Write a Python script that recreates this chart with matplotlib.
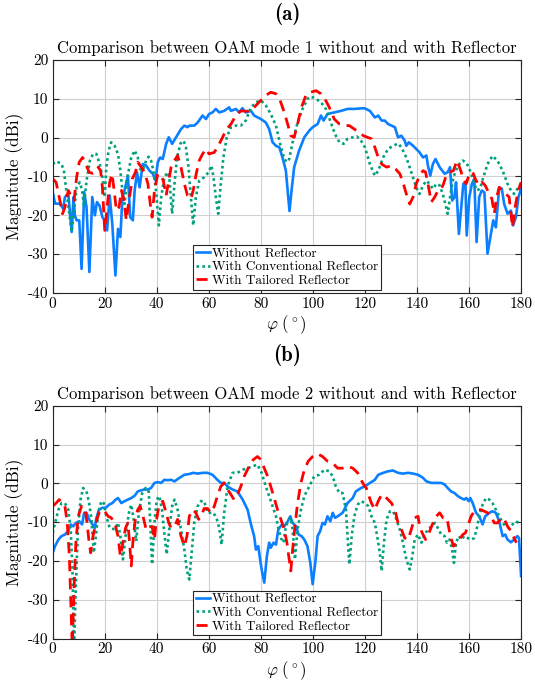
import numpy as np
import matplotlib
matplotlib.use("Agg")
from matplotlib import pyplot as plt

plt.rcParams['font.family'] = ['cmr10', 'DejaVu Serif']
plt.rcParams['mathtext.fontset'] = 'cm'

#  (a) OAM mode 1
a_blue_x = [0, 0.9, 2.8, 4, 4.7, 6, 7.3, 8, 8.5, 9.2, 10.2, 11.1, 12.1, 13, 14.1, 15.2, 16.2, 17, 18, 19.1,
            20, 20.9, 21.9, 22.9, 24.1, 25.1, 26, 26.8, 27.6, 28.9, 29.8, 30.8, 31.5, 32.4, 33.4, 34.6, 35.9, 37.2, 38.5, 39.5,
            40.4, 41.3, 42.3, 43.6, 44.6, 45.9, 47.4, 49.3, 50.6, 51.8, 52.5, 54.4, 55.7, 57.6, 58.9, 60.1,
            61.4, 62.7, 64, 65.9, 67.8, 68.5, 70.4, 71.7, 72.9, 74.2, 76.2, 77.4, 80, 81.9, 83.2, 84.5, 85.8, 87.1, 88.3, 89.6,
            90.3, 91, 91.8, 92.8, 94.7, 96.7, 98.6, 99.9, 101.8, 103.1, 104.1, 105.6, 108.2, 110.8, 113.3, 115.9, 119.7,
            121.9, 123.8, 125.1, 126.4, 127.6, 128.9, 130.2, 131.5, 132.7, 134, 135.3, 135.9, 136.9, 138.5, 139.7,
            141, 142.3, 143.6, 144.2, 145.1, 146.1, 147.1, 148.7, 150.6, 151.8, 152.7, 153.5, 154.4, 155, 156.1, 157, 157.8, 158.6, 159.1,
            160.1, 161.1, 162, 162.9, 163.9, 164.9, 165.9, 167.1, 168.4, 169.3, 170.3, 171.6, 172.6, 173.5, 174.8, 176.1, 176.9, 178, 179, 180]
a_blue_y = [-14, -17, -17, -18.3, -15.3, -14.5, -24.3, -15.3, -20, -21.3, -21.3, -33.8, -14, -17.9, -34.6, -15.3, -20, -16.6, -17.5, -20.5,
            -21.3, -23.9, -14.9, -22.2, -35.5, -23.5, -25.6, -15.3, -13.6, -9.8, -20.5, -21.3, -13.6, -8.9, -12.8, -6.8, -7.2, -8.5, -9.3, -11,
            -6.3, -5.1, -5.5, -1.6, 0.1, -1.6, 0.1, 2.2, 3.1, 2.7, 3.1, 3.1, 3.9, 5.7, 4.8, 6.1,
            6.5, 7.4, 6.5, 6.9, 7.8, 6.9, 7.4, 6.5, 7.6, 6.5, 6.9, 5.7, 4.8, 3.9, 2.2, -1.2, -2.1, -2.5, -5.1, -8.5,
            -13.6, -18.9, -13.6, -7.6, -3.3, 0.1, 1.8, 2.7, 3.5, 5.7, 4.4, 6.1, 6.5, 6.9, 7.4, 7.4, 7.6,
            6.9, 5.2, 5.7, 4.4, 4.4, 3.5, 3.1, 2.7, 0.1, 0.5, -0.8, -2.1, -1.2, -2.1, -2.9,
            -3.8, -5.1, -4.6, -7.2, -9.8, -6.8, -5.5, -7.6, -9.3, -8.9, -7.6, -16.2, -15.3, -11.5, -24.8, -17.9, -11.9, -11.5, -25.2,
            -15.3, -11.9, -10.6, -26.9, -15.3, -13.6, -14.1, -29.9, -24.8, -21.3, -23.1, -12.8, -13.2, -17.1, -19.6, -18.8, -22.6, -20.5, -15.3, -13.2]

a_green_x = [0, 1.5, 3.4, 4.3, 5.4, 6.4, 7.3, 8.2, 9.2, 10.4, 11.3, 12, 13, 14.3, 15.5, 16.8, 18.1, 19.1,
             20, 20.6, 21.5, 22.5, 23.8, 25.1, 26, 26.8, 27.6, 28.7, 30.2, 31.5, 32.7, 33.6, 34.6, 35.9, 36.9, 37.8, 38.7, 39.7,
             40.8, 41.7, 42.9, 44.2, 44.8, 45.9, 46.8, 47.8, 49.1, 50.3, 51.2, 52.2, 53.1, 54, 55, 56.3, 58.2, 59.9,
             61, 61.8, 62.7, 63.6, 64.6, 65.6, 66.9, 68.5, 70.4, 72.3, 74.2, 76.2, 78.1, 80, 81.9, 83.8, 85.8, 87.4, 89,
             90, 90.9, 92.2, 94.1, 96, 97.9, 99.2, 101.2, 103.1, 105, 106.9, 108.5, 110.2, 111.8, 113.3, 115.3, 116.9, 118.5,
             120, 121.9, 123.8, 125.1, 127, 128.9, 130.8, 132.7, 134, 135.9, 137.8, 139.7, 141, 142.3, 143.6, 144.8, 146.1, 147.4, 148.7,
             149.9, 150.9, 151.8, 152.7, 154, 155.7, 157.6, 159.1, 160.4, 161.7, 162.9, 164.2, 165.5, 167.1, 169, 170.9, 172.9,
             174.8, 176.1, 177.3, 178.6, 180]
a_green_y = [-6.8, -6.1, -6.8, -8.5, -14.5, -19.6, -24.3, -18.8, -12.8, -11.5, -13.6, -17.5, -11.1, -5.9, -4.2, -4.2, -6.8, -10.2,
             -15.3, -7.6, -3.3, -1.2, -2.1, -4.2, -8.5, -13.6, -17.1, -10.2, -5.1, -3.3, -5.1, -8.1, -8.5, -5.9, -4.9, -5.9, -8.5, -13.6,
             -22.6, -15.3, -10.2, -8.9, -10.2, -19.6, -11.9, -5.1, -1.5, -0.8, -2.5, -7.6, -15.3, -22.6, -15.3, -11.1, -10.2, -8.9,
             -7.2, -10.2, -15.3, -19.6, -11.9, -5.1, 0.1, 2.7, 3.1, 3.1, 4.4, 7.8, 9.1, 9.6, 8.3, 6.1, 3.1, -1.6, -5.5,
             -6.3, -5.5, -1.2, 3.9, 7.4, 10, 10.6, 10, 9.1, 7.4, 3.9, 0.9, -1.2, -1.6, -0.3, 0.1, 0.3, -0.8,
             -2.5, -6.8, -9.8, -8.5, -5.1, -2.9, -2.1, -1.5, -2.5, -5.1, -8.9, -12.8, -14.5, -12.3, -11.1, -11.9, -13.2, -11.9, -12.3,
             -14.5, -17.1, -19.6, -15.3, -10.2, -7.2, -5.9, -6.6, -8.5, -11.1, -13.6, -13.2, -10.2, -6.8, -4.7, -5.9, -8.5,
             -11.9, -13.6, -14.5, -13.2, -11.9]

a_red_x = [0, 1.3, 2.5, 3.8, 4.7, 6, 7.3, 8.2, 9.2, 10.2, 11.5, 12.7, 14, 15.3, 16.2, 17.5, 18.4, 19.1,
           20, 20.9, 21.9, 22.8, 23.6, 24.5, 25.5, 26.4, 27.3, 28.3, 29.3, 30.6, 31.8, 32.7, 34, 35.3, 36.6, 37.5, 38.2, 39.1,
           40.4, 41.7, 42.5, 43.6, 44.5, 45.5, 46.8, 48, 49.3, 50.6, 51.8, 53.1, 54, 55, 56.3, 57.6, 58.9,
           60.1, 62.1, 64, 65.3, 66.5, 68.5, 70.4, 72.3, 74.2, 76.2, 78.1, 80, 81.9, 83.8, 85.8, 87.4, 89,
           90.3, 91.5, 92.8, 94.1, 95.6, 97.3, 99, 101.2, 103.1, 104.6, 106.3, 108.2, 110.2, 112.1, 114, 115.9, 117.8, 119.4,
           120.9, 122.5, 123.8, 125.1, 126.4, 128.3, 130.2, 131.8, 133.4, 134.6, 135.9, 137.2, 138.5, 139.7,
           141, 142.3, 143.3, 144.2, 145.5, 146.8, 148.1, 149.3, 150.2, 151.2, 152.5, 154, 155.3, 156.6, 157.8, 158.9,
           160.1, 161.4, 162.4, 163.7, 165, 166.2, 167.5, 168.8, 169.7, 170.6, 171.6, 172.9, 174.1, 175.4, 176.7, 177.7, 178.9, 180]
a_red_y = [-10.6, -11.5, -15.3, -19.6, -17.9, -13.6, -15.3, -16.2, -10.2, -6.3, -5.1, -6.8, -8.9, -9.2, -8.9, -7.6, -8.5, -12.8,
           -23.9, -17.9, -11.5, -9.3, -13.6, -18.8, -17.9, -13.6, -15.8, -21.3, -16.2, -10.6, -8.9, -6.3, -7.6, -8.9, -11.9, -17.1, -20.5, -13.6,
           -9.3, -9.8, -11.1, -14.9, -11.5, -7.6, -5.9, -4.6, -7.6, -11.9, -14.9, -15.8, -13.6, -9.8, -5.9, -4.2, -2.9,
           -4.2, -3.8, -1.6, 0.1, 1.8, 3.5, 5.7, 6.9, 6.8, 6.9, 8.3, 9.6, 10.9, 11.7, 11.3, 9.6, 6.5,
           3.5, 0.5, 0.1, 3.5, 7.8, 10.9, 11.7, 12.1, 11.3, 10, 7.8, 4.8, 3.5, 3.1, 3.1, 2.2, 1.4, 0.5,
           0.1, -0.3, -2.5, -5.1, -6.8, -7.6, -7.2, -8.1, -9.3, -11.5, -14.5, -17.1, -15.3, -11.9,
           -9.8, -8.5, -8.9, -11.9, -16.6, -15.3, -13.6, -13.2, -11.9, -9.8, -8.9, -8.5, -5.9, -8.1, -10.6, -11.9,
           -9.3, -8.9, -10.6, -12.3, -11.5, -12.3, -14.1, -15.8, -19.6, -15.3, -12.8, -13.6, -14.5, -15.3, -23.1, -17.9, -13.6, -11.5]

#  (b) OAM mode 2
b_blue_x = [0, 0.9, 2.2, 3.4, 4.7, 6, 6.9, 7.9, 8.9, 10.2, 11.3, 12.1, 13, 14, 14.9, 16.2, 16.8, 17.8, 19.1,
            20.4, 21.7, 22.9, 24.2, 25.1, 26.4, 27.6, 28.9, 30.2, 31.5, 32.7, 34, 35.3, 36.6, 37.8, 39.1,
            40.4, 41.7, 42.9, 44.2, 45.5, 46.8, 48.7, 50.6, 52.5, 54, 55.7, 57.6, 59.5,
            61.4, 63.3, 64.6, 65.9, 67.2, 69.1, 71, 73, 74.9, 76.2, 77.4, 78.1, 79, 79.7, 80.4, 81.3, 82.3, 83.2, 83.8, 84.9, 85.8, 86.7, 87.9, 89,
            90.3, 91.3, 92.2, 93.5, 94.5, 95.6, 96.7, 97.9, 99, 99.9, 100.9, 101.8, 102.8, 103.7, 104.6, 105.6, 106.7, 107.6, 108.5, 109.5,
            111.4, 113.3, 115.3, 116.5, 118.5, 120, 121.9, 123.8, 125.1, 127, 128.9, 130.8, 132.7, 134.6, 136.6, 138.5,
            140.4, 142.3, 143.6, 145.5, 147.4, 149.3, 150.6, 151.8, 153.1, 154.4, 155.7, 156.9, 158.2, 158.9, 159.9,
            160.5, 161.4, 162.7, 163.9, 165.2, 166.2, 167.8, 169, 170.3, 171.6, 172.9, 173.9, 174.8, 176.1, 177.3, 178.6, 179.2, 180]
b_blue_y = [-17.9, -16.2, -14.5, -13.6, -13.2, -12.3, -10.6, -11.1, -10.2, -9.8, -10.6, -7.6, -7.6, -9.3, -10.2, -11.5, -8.9, -6.8, -6.3,
            -6.3, -5.5, -5.1, -4.2, -3.8, -5.1, -4.6, -4.2, -3.8, -3.2, -2.1, -1.8, -1.6, -1.6, -1.2, 0.1,
            0.3, 0.1, 0.9, 0.8, 0.9, 0.5, 1.4, 2.2, 2.4, 2.7, 2.5, 2.7, 2.7,
            2.2, 0.9, 0.1, 0.1, -0.8, -1.6, -2.1, -4.2, -6.8, -10.6, -13.6, -17.1, -16.2, -19.6, -22.6, -25.6, -18.8, -15.3, -16.6, -15.3, -15.8, -11.9, -10.8, -11.1,
            -9.8, -8.5, -10.2, -11.1, -13.2, -13.6, -14.5, -16.2, -20.5, -26, -20.5, -13.6, -12.3, -10.2, -10.6, -8.5, -9.8, -7.6, -8.9, -8.5,
            -7.6, -5.1, -3.8, -2.1, -1.2, -0.8, 0.1, 0.9, 2.2, 2.7, 3.1, 3.3, 2.7, 2.5, 2.7, 2.5,
            2.2, 1.4, 0.5, 0.1, 0.1, 0.1, -0.3, -1.2, -2.1, -2.5, -3.3, -3.8, -4.2, -3.8, -4.6,
            -3.8, -5.1, -7.6, -8.5, -10.6, -8.5, -7.6, -7.2, -7.6, -9.8, -13.6, -13.2, -14.5, -15.2, -14.5, -13.6, -14.1, -23.9]

b_green_x = [0, 0.9, 2.2, 3.4, 4.7, 6, 6.9, 7.6, 8.2, 8.9, 9.7, 10.7, 11.7, 13, 14, 14.9, 15.8, 16.6, 17.5, 18.7, 19.6,
             20.6, 21.9, 23.8, 25.1, 26, 27, 28, 29.3, 30.2, 31.1, 32.1, 33.1, 34.4, 35.7, 36.9, 37.6, 38.2, 39.1,
             40, 41, 42, 42.9, 43.8, 44.8, 45.9, 46.8, 48, 49.3, 50.6, 51.5, 52.5, 53.5, 54.4, 55.7, 57, 58.2, 59.5,
             60.5, 61.8, 63.1, 64, 64.9, 65.9, 67.2, 69.1, 71, 73, 74.9, 76.8, 78.7, 80.3, 81.9, 83.2, 84.5, 85.8, 86.7, 87.7, 88.7, 89.6,
             90.5, 91.5, 92.2, 93.1, 94.1, 95.4, 96.7, 98.6, 100.5, 102.4, 104.4, 106.3, 107.6, 108.8, 110.2, 111.4, 112.7, 113.3, 114, 114.9, 115.9, 117.2, 118.5,
             120, 121.3, 122.5, 123.8, 124.7, 125.7, 126.4, 127.3, 128.3, 129.6, 130.8, 132.1, 133.4, 134.6, 135.9, 137.2, 138.2, 139.1,
             140.4, 141.7, 142.9, 144.2, 145.5, 146.8, 148, 149.3, 150.6, 151.5, 152.5, 153.5, 154.2, 155, 156.1, 157, 158.2, 159.5,
             160.8, 162, 162.9, 163.9, 165.2, 166.5, 167.8, 169, 170.3, 171.6, 172.9, 174.1, 175.4, 176.7, 178, 179.2, 180]
b_green_y = [-12.8, -10.2, -6.8, -5.1, -5.1, -6.8, -11.9, -22.2, -42, -26.5, -11.9, -4.2, -1.2, -2.1, -5.1, -9.3, -17.9, -13.6, -7.6, -4.6, -5.1,
             -8.5, -11.5, -11.9, -10.2, -13.6, -19.6, -13.6, -7.6, -5.5, -9.3, -14.9, -7.6, -2.5, -1.2, -2.1, -11.9, -20.9, -10.2,
             -4.2, -3.3, -6.8, -12.8, -18.3, -11.9, -5.9, -4.2, -6.8, -11.9, -17.1, -22.2, -24.8, -17.1, -10.2, -5.9, -4.6, -4.6, -7.6,
             -7.6, -7.6, -9.3, -11.5, -15.8, -7.6, -0.8, 2.7, 2.7, 3.5, 3.9, 4.4, 4.8, 2.7, -0.8, -3.3, -5.9, -8.5, -11.5, -14.1, -15.3, -11.1,
             -9.8, -8.9, -11.9, -19.6, -11.9, -6.8, -3.3, -0.8, 1.8, 2.2, 3.5, 3.1, 1.8, -0.8, -2.5, -2.5, -6.8, -13.6, -20.9, -13.6, -8.5, -5.5, -4.6,
             -5.1, -5.9, -8.5, -10.2, -13.6, -17.9, -22.6, -15.3, -9.3, -7.2, -7.2, -9.3, -11.9, -15.3, -19.6, -22.2, -18.8, -14.5,
             -13.2, -15.3, -13.2, -11.9, -11.1, -10.2, -11.5, -13.2, -13.6, -15.3, -14.5, -17.1, -20.5, -15.3, -13.6, -14.5, -13.6, -14.1,
             -14.5, -14.1, -11.9, -8.5, -5.5, -3.8, -4.2, -5.1, -6.8, -8.5, -10.2, -11.1, -11.5, -10.6, -9.8, -10.2, -10.2]

b_red_x = [0, 1.3, 2.5, 3.8, 4.7, 5.6, 6.4, 6.9, 7.5, 8.2, 8.9, 9.8, 11.1, 12.4, 13.2, 14, 14.6, 15.5, 16.6, 17.8, 19.1,
           20, 21.3, 22.5, 23.8, 25.1, 26, 27, 28, 28.9, 29.6, 30.2, 30.8, 31.8, 32.7, 33.6, 34.4, 35.3, 35.9, 37.2, 38.2, 39.1, 39.7,
           40.8, 42.3, 43.6, 44.6, 45.5, 46.8, 48, 49.3, 50.6, 51.6, 52.5, 53.8, 55, 56.1, 57, 58.2, 59.5,
           60.8, 62.1, 63.3, 64.6, 65.9, 67.2, 68.5, 69.7, 71, 72.3, 73.6, 75.5, 77.1, 78.7, 80, 81.3, 82.6, 83.8, 85.1, 86.4, 87.7, 89,
           90, 90.9, 91.5, 92.2, 93.1, 94.1, 95.4, 96.7, 98.2, 99.9, 101.8, 103.7, 105.6, 107.6, 109.5, 111.4, 113.3, 115.3, 117.2, 118.5,
           119.5, 120.5, 121.3, 122.5, 123.8, 125.1, 126.4, 128.3, 130.2, 131.5, 132.7, 134, 135.3, 136.6, 137.8, 139.1,
           140.4, 141, 142, 143.3, 144.6, 145.9, 147.4, 148.7, 150, 151.5, 152.7, 154, 155.3, 156.3, 157.6, 158.6, 159.5,
           160.8, 162, 163.3, 164.6, 165.9, 167.1, 168.4, 169.7, 171, 172.3, 173.6, 174.8, 176.1, 177.3, 178.2]
b_red_y = [-5.9, -5.1, -4.2, -5.1, -5.9, -10.2, -18.8, -29, -42, -27.3, -15.3, -8.5, -5.9, -6.3, -10.2, -15.3, -17.9, -13.6, -10.2, -7.6, -6.8,
           -7.2, -8.5, -8.9, -10.2, -13.6, -18.8, -15.3, -11.5, -10.2, -15.8, -21.3, -15.3, -8.9, -6.8, -5.9, -7.6, -10.2, -11.9, -11.9, -11.1, -14.5, -10.2,
           -5.9, -4.6, -7.6, -10.2, -11.5, -11.1, -9.3, -13.6, -16.2, -13.6, -8.5, -6.8, -7.6, -9.3, -8.5, -6.5, -6.5,
           -7.6, -5.9, -3.3, -0.8, 0.1, -1.6, -2.9, -4.2, -2.9, -0.8, 1.8, 4.4, 6.1, 6.9, 6.1, 3.9, 1.8, -0.8, -3.8, -6.8, -9.3, -11.9,
           -15.3, -19.6, -22.6, -17.1, -11.1, -5.1, 0.1, 3.5, 5.7, 6.9, 7.6, 6.9, 5.7, 5.2, 3.9, 3.9, 4.4, 3.9, 2.7, 0.9,
           -0.3, -1.2, -2.9, -5.1, -6.8, -4.6, -2.9, -3.8, -5.1, -6.8, -10.2, -11.9, -14.1, -14.5, -11.9, -8.9,
           -8.5, -11.1, -12.8, -14.5, -12.8, -10.6, -8.5, -7.6, -8.9, -8.9, -13.2, -16.2, -15.3, -14.5, -13.2, -12.8, -11.1,
           -8.5, -7.2, -6.8, -6.8, -7.2, -7.6, -8.5, -10.2, -10.2, -8.9, -9.3, -11.1, -12.3, -14.1, -15.3]

labels = ['Without Reflector', 'With Conventional Reflector', 'With Tailored Reflector']
x_ticks = [0, 20, 40, 60, 80, 100, 120, 140, 160, 180]
y_ticks = [-40, -30, -20, -10, 0, 10, 20]
panels = [
    ('(a)', 'Comparison between OAM mode 1 without and with Reflector',
     (a_blue_x, a_blue_y), (a_green_x, a_green_y), (a_red_x, a_red_y)),
    ('(b)', 'Comparison between OAM mode 2 without and with Reflector',
     (b_blue_x, b_blue_y), (b_green_x, b_green_y), (b_red_x, b_red_y)),
]

fig = plt.figure(figsize=(5.35, 6.86), dpi=100)
rects = [[0.0985, 0.573, 0.8755, 0.3395], [0.0985, 0.0692, 0.8755, 0.3394]]
label_y = [0.979, 0.4818]

for (tag, title, blue, green, red), rect, ly in zip(panels, rects, label_y):
    ax = fig.add_axes(rect)
    ax.plot(blue[0], blue[1], color='#0a7fff', lw=1.9, ls='-', label=labels[0])
    ax.plot(green[0], green[1], color='#00a07a', lw=1.9, ls=(0, (1, 1.2)), label=labels[1])
    ax.plot(red[0], red[1], color='#ff0000', lw=2.0, ls=(0, (4, 2.5)), label=labels[2])
    ax.set_xlim(0, 180)
    ax.set_ylim(-40, 20)
    ax.set_xticks(x_ticks)
    ax.set_xticklabels([str(t) for t in x_ticks])
    ax.set_yticks(y_ticks)
    ax.set_yticklabels([str(t) for t in y_ticks])
    ax.grid(True, color='#d0d0d0', lw=0.8)
    ax.set_axisbelow(True)
    ax.tick_params(direction='in', top=True, right=True, labelsize=11, length=4, color='#262626', pad=3)
    for s in ax.spines.values():
        s.set_color('#262626')
        s.set_linewidth(0.8)
    ax.set_title(title, fontsize=12, pad=5)
    ax.set_ylabel('Magnitude (dBi)', fontsize=12.5, labelpad=3)
    ax.set_xlabel(r'$\varphi\ (^\circ)$', fontsize=12, labelpad=2)
    leg = ax.legend(loc='lower center', fontsize=9.5, frameon=True, fancybox=False,
                    edgecolor='#262626', framealpha=1, borderaxespad=0.25,
                    handlelength=1.1, handletextpad=0.15, borderpad=0.2, labelspacing=0.1)
    leg.get_frame().set_linewidth(0.8)
    fig.text(0.537, ly, tag, ha='center', va='center', fontsize=15, family=['cmb10', 'DejaVu Serif'])

fig.savefig('out.png', dpi=100)
